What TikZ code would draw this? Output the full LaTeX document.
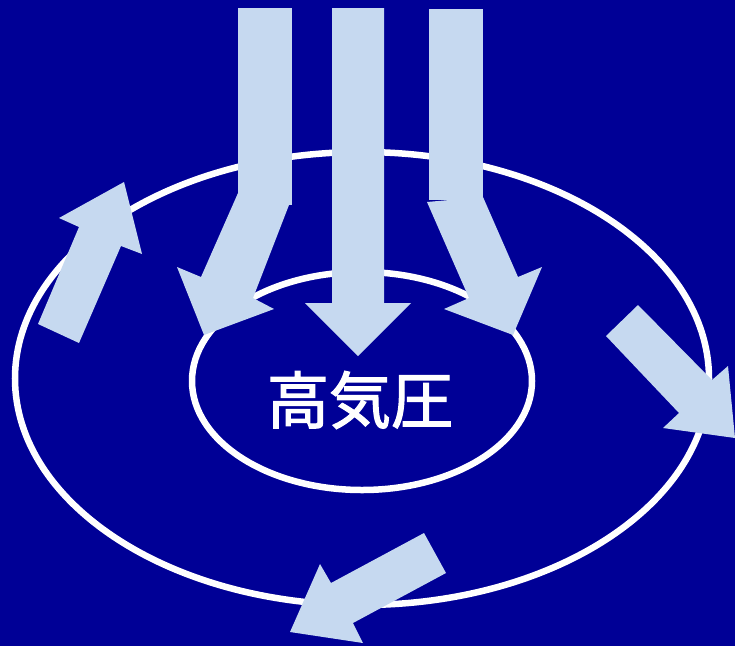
\documentclass[tikz,border=0pt]{standalone}
\usepackage{fontspec}
\newfontfamily\cjk{Noto Sans CJK JP}[FakeBold=2]
\usepackage{xcolor}
\usepackage{tikz}
\definecolor{bgblue}{RGB}{0,0,150}
\definecolor{windblue}{RGB}{198,217,240}
\tikzset{
	wind/.style={fill=windblue,draw=none},
	isobar/.style={draw=white,line width=6.5pt},
	center node/.style={text=white,font=\cjk\fontsize{62}{70}\selectfont,inner sep=0pt}
}

\begin{document}
\begin{tikzpicture}[x=1pt,y=-1pt]
      \fill[bgblue] (0,0) rectangle (735,646);
      \useasboundingbox (0,0) rectangle (735,646);

      % isobars
      \draw[isobar] (362,378.5) ellipse [x radius=347, y radius=226.5];
      \draw[isobar] (362,381) ellipse [x radius=170, y radius=109];

      \node[center node] (1) at (360,400) {高気圧};

      % sinking air
      \fill[wind] (238,8) rectangle (292,205);
      \fill[wind] (238,193) -- (201,277) -- (177,267) -- (204,335) -- (274,309)
        -- (253,298) -- (289,205) -- cycle;
      \fill[wind] (332,8) -- (384,8) -- (384,303) -- (411,303) -- (358,356)
        -- (305,303) -- (332,303) -- cycle;
      \fill[wind] (429,9) rectangle (483,200);
      \fill[wind] (483,197) -- (518,277) -- (542,267) -- (513,335) -- (444,309)
        -- (469,298) -- (427,202) -- cycle;

      % outflow
      \fill[wind] (38,324) -- (79,227) -- (59,218) -- (124,182) -- (142,254)
        -- (121,246) -- (79,343) -- cycle;
      \fill[wind] (606,336) -- (638,305) -- (712,380) -- (728,366) -- (735,438)
        -- (663,428) -- (679,413) -- cycle;
      \fill[wind] (424,533) -- (446,573) -- (353,623) -- (363,643) -- (290,632)
        -- (320,564) -- (331,583) -- cycle;
    \end{tikzpicture}
\end{document}
